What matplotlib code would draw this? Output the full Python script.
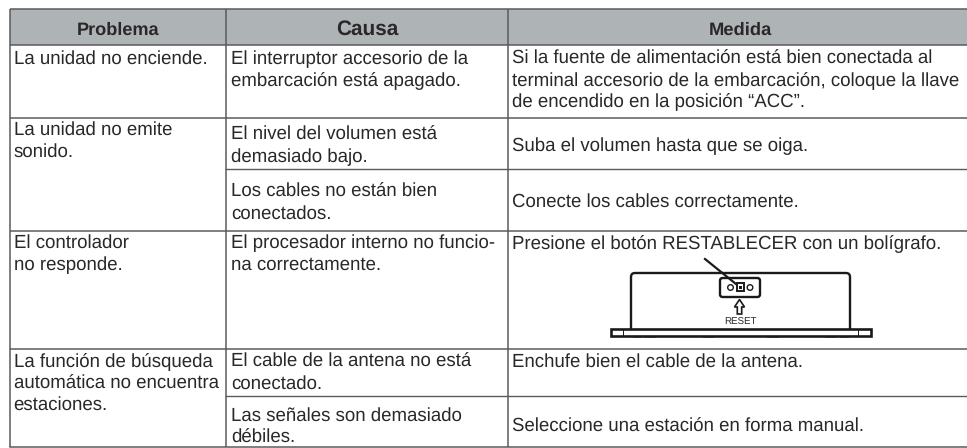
import matplotlib
matplotlib.use('Agg')
import matplotlib.pyplot as plt
from matplotlib.patches import Rectangle, FancyBboxPatch, Circle, Polygon

plt.rcParams['font.family'] = ['Liberation Sans']
plt.rcParams['text.hinting'] = 'none'
plt.rcParams['text.hinting_factor'] = 8

# table text
headers = ['Problema', 'Causa', 'Medida']
problema = ['La unidad no enciende.',
            'La unidad no emite\nsonido.',
            'El controlador\nno responde.',
            'La función de búsqueda\nautomática no encuentra\nestaciones.']
causa = ['El interruptor accesorio de la\nembarcación está apagado.',
         'El nivel del volumen está\ndemasiado bajo.',
         'Los cables no están bien\nconectados.',
         'El procesador interno no funcio-\nna correctamente.',
         'El cable de la antena no está\nconectado.',
         'Las señales son demasiado\ndébiles.']
medida = ['Si la fuente de alimentación está bien conectada al\nterminal accesorio de la embarcación, coloque la llave\nde encendido en la posición “ACC”.',
          'Suba el volumen hasta que se oiga.',
          'Conecte los cables correctamente.',
          'Presione el botón RESTABLECER con un bolígrafo.',
          'Enchufe bien el cable de la antena.',
          'Seleccione una estación en forma manual.']

# first baseline of each cell, in pixels
problema_y = [64, 135, 248, 367]
causa_y = [64, 140, 197, 248, 367, 421]
medida_y = [64, 151, 207, 249, 367, 432]

W, H = 967, 448
LINE = '#5a5b5d'
TEXT = '#2a2728'
x_left, x_c2, x_c3, x_right = 10, 226, 508, 967
y_top, y_head, y_bot = 9.5, 45, 447

fig = plt.figure(figsize=(W / 100, H / 100), dpi=100)
ax = fig.add_axes([0, 0, 1, 1])
ax.set_xlim(0, W)
ax.set_ylim(H, 0)
ax.axis('off')

# header band
ax.add_patch(Rectangle((x_left, y_top), x_right - x_left, y_head - y_top, fc='#aeb4b6', ec='none'))

# rules
for y in [y_top, y_head, 118, 231, 349]:
    ax.plot([x_left, x_right], [y, y], c=LINE, lw=1.1, solid_capstyle='butt')
ax.plot([x_left, x_right], [y_bot, y_bot], c=LINE, lw=1.1)
for y in [169, 396]:
    ax.plot([x_c2, x_right], [y, y], c=LINE, lw=1.0)
for x in [x_left, x_c2, x_c3]:
    ax.plot([x, x], [y_top, y_bot], c=LINE, lw=1.1, solid_capstyle='butt')

# header text
ax.text(118, 35, headers[0], ha='center', va='baseline', fontsize=13.1, fontweight='bold', color=TEXT)
ax.text(367, 35, headers[1], ha='center', va='baseline', fontsize=14.95, fontweight='bold', color=TEXT)
ax.text(740, 35, headers[2], ha='center', va='baseline', fontsize=13.2, fontweight='bold', color=TEXT)

# body text, one line at a time so the leading matches
def cells(texts, ys, x):
    for t, y0 in zip(texts, ys):
        for i, line in enumerate(t.split('\n')):
            ax.text(x, y0 + i * 21.6, line, ha='left', va='baseline', fontsize=13.45, color=TEXT)

cells(problema, problema_y, 13.5)
cells(causa, causa_y, 231)
cells(medida, medida_y, 512.5)

# reset drawing
K = '#1a1a1a'
ax.add_patch(FancyBboxPatch((631, 273), 219, 60, boxstyle='round,pad=0,rounding_size=4', fc='white', ec=K, lw=1.7, zorder=2))
# little feet under the base
for x0, x1 in [(633, 640), (645, 655), (703, 713), (767, 778), (825, 835), (840, 848)]:
    ax.plot([x0, x1], [337.5, 337.5], c='#888888', lw=0.7, zorder=2)
ax.add_patch(Rectangle((610.5, 329), 260, 7, fc='white', ec=K, lw=1.9, zorder=3))
ax.plot([623, 623], [329, 336], c=K, lw=0.7, zorder=4)
ax.plot([858, 858], [329, 336], c=K, lw=0.7, zorder=4)
ax.add_patch(FancyBboxPatch((720, 278), 40, 19, boxstyle='round,pad=0,rounding_size=2.5', fc='white', ec=K, lw=1.7, zorder=3))
ax.add_patch(Circle((730.5, 287.5), 2.8, fc='white', ec=K, lw=1.0, zorder=4))
ax.add_patch(Circle((750, 287.5), 2.8, fc='white', ec=K, lw=1.0, zorder=4))
ax.add_patch(Rectangle((736.5, 283.5), 7.5, 7.5, fc='white', ec=K, lw=1.4, zorder=4))
ax.add_patch(Rectangle((739, 286), 2.6, 2.6, fc=K, ec='none', zorder=5))
ax.plot([705, 736], [259, 284], c=K, lw=1.6, zorder=6)
ax.add_patch(Polygon([(739.5, 299.5), (744.5, 307), (741.7, 307), (741.7, 314), (737.3, 314), (737.3, 307), (734.5, 307)],
                     closed=True, fc='white', ec=K, lw=1.2, zorder=4))
ax.text(740, 324.5, 'RESET', ha='center', va='baseline', fontsize=7.05, color=TEXT, zorder=5)

fig.savefig('out.png', dpi=100)
